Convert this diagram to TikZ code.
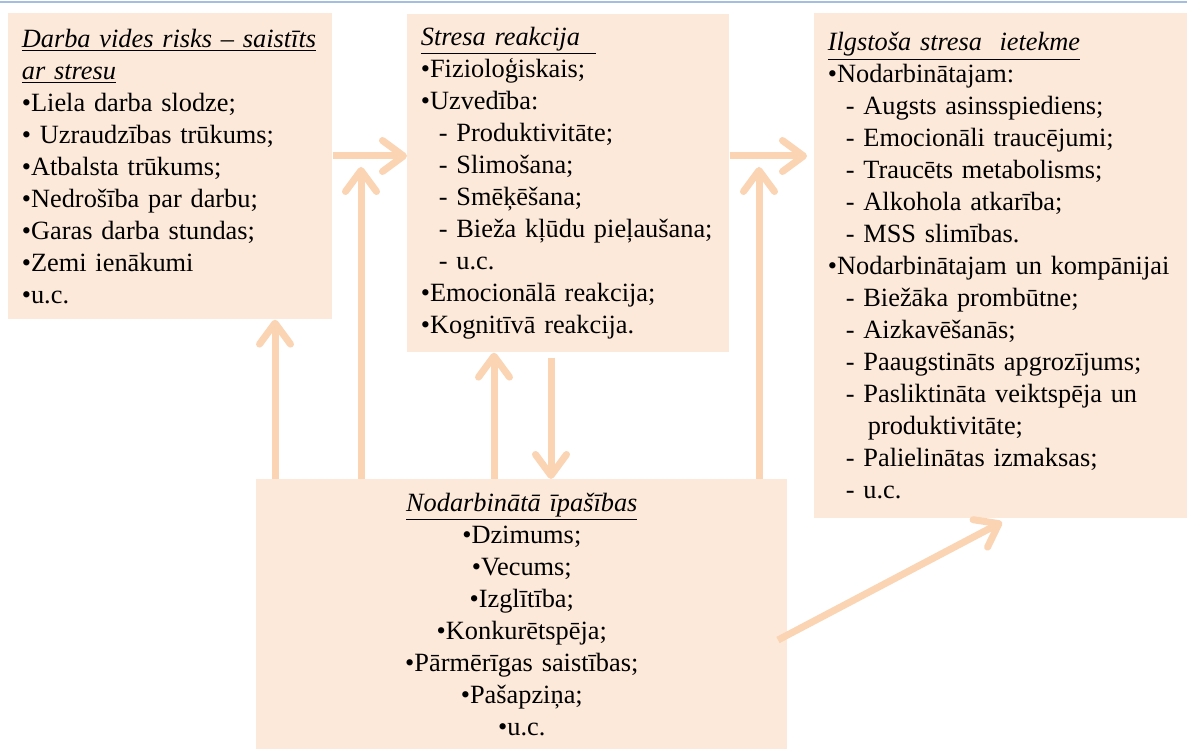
\documentclass[tikz,border=0pt]{standalone}
\usepackage{fontspec}
\setmainfont{Liberation Serif}
\usetikzlibrary{arrows.meta}

\definecolor{boxfill}{RGB}{253,233,217}
\definecolor{arrowfill}{RGB}{251,212,180}
\definecolor{topline}{RGB}{164,190,226}

\tikzset{
  box/.style={fill=boxfill, anchor=north west, inner xsep=0.27cm, inner ysep=0pt,
    align=left, font=\fontsize{15pt}{18.2pt}\selectfont},
  arr/.style={color=arrowfill, line width=0.14cm,
    -{Straight Barb[length=0.42cm, width=0.62cm, round]}},
}
\newcommand{\ditem}{\hspace*{0.36cm}-\ }
\newcommand{\head}[1]{\underline{\textit{#1}}}

\begin{document}
\begin{tikzpicture}[x=0.02cm, y=-0.02cm]
  \useasboundingbox (0,0) rectangle (1187,749);
  \draw[topline, line width=0.04cm] (0,2) -- (1187,2);

  % the four boxes
  \node[box, text width=5.94cm, minimum height=6.12cm] (B1) at (8,13) {%
    \head{Darba vides risks – saistīts}\\
    \head{ar stresu}\\
    •Liela darba slodze;\\
    • Uzraudzības trūkums;\\
    •Atbalsta trūkums;\\
    •Nedrošība par darbu;\\
    •Garas darba stundas;\\
    •Zemi ienākumi\\
    •u.c.};
  \node[box, text width=5.90cm, minimum height=6.76cm] (B2) at (407,14) {%
    \underline{\textit{Stresa reakcija}\hspace{0.6em}}\\
    •Fizioloģiskais;\\
    •Uzvedība:\\
    \ditem Produktivitāte;\\
    \ditem Slimošana;\\
    \ditem Smēķēšana;\\
    \ditem Bieža kļūdu pieļaušana;\\
    \ditem u.c.\\
    •Emocionālā reakcija;\\
    •Kognitīvā reakcija.};
  \node[box, text width=6.92cm, minimum height=10.10cm] (B3) at (814,13) {%
    \head{Ilgstoša stresa\ \ ietekme}\\
    •Nodarbinātajam:\\
    \ditem Augsts asinsspiediens;\\
    \ditem Emocionāli traucējumi;\\
    \ditem Traucēts metabolisms;\\
    \ditem Alkohola atkarība;\\
    \ditem MSS slimības.\\
    \mbox{•Nodarbinātajam un kompānijai}\\
    \ditem Biežāka prombūtne;\\
    \ditem Aizkavēšanās;\\
    \ditem Paaugstināts apgrozījums;\\
    \ditem Pasliktināta veiktspēja un\\
    \hspace*{0.8cm}produktivitāte;\\
    \ditem Palielinātas izmaksas;\\
    \ditem u.c.};
  \node[box, align=center, text width=10.08cm, minimum height=5.40cm] (B4) at (256,479) {%
    \head{Nodarbinātā īpašības}\\
    •Dzimums;\\
    •Vecums;\\
    •Izglītība;\\
    •Konkurētspēja;\\
    •Pārmērīgas saistības;\\
    •Pašapziņa;\\
    •u.c.};

  % arrows
  \coordinate (x1) at (275,0);
  \coordinate (x2) at (361,0);
  \coordinate (x3) at (494,0);
  \coordinate (x4) at (551,0);
  \coordinate (x5) at (759,0);
  \coordinate (y1) at (0,156);
  \coordinate (d1) at (778,640);
  \coordinate (d2) at (1002,522);

  \path[arr] (B1.east |- y1) edge (B2.west |- y1);
  \path[arr] (B2.east |- y1) edge [shorten >=0.14cm] (B3.west |- y1);
  \path[arr] (x1 |- B4.north) edge (x1 |- B1.south);
  \path[arr] (x2 |- B4.north) edge [shorten >=0.22cm] (x2 |- y1);
  \path[arr] (x3 |- B4.north) edge (x3 |- B2.south);
  \path[arr] (x4 |- B2.south) edge [shorten <=0.1cm] (x4 |- B4.north);
  \path[arr] (x5 |- B4.north) edge [shorten >=0.22cm] (x5 |- y1);
  \path[arr] (d1) edge (d2);
\end{tikzpicture}
\end{document}
